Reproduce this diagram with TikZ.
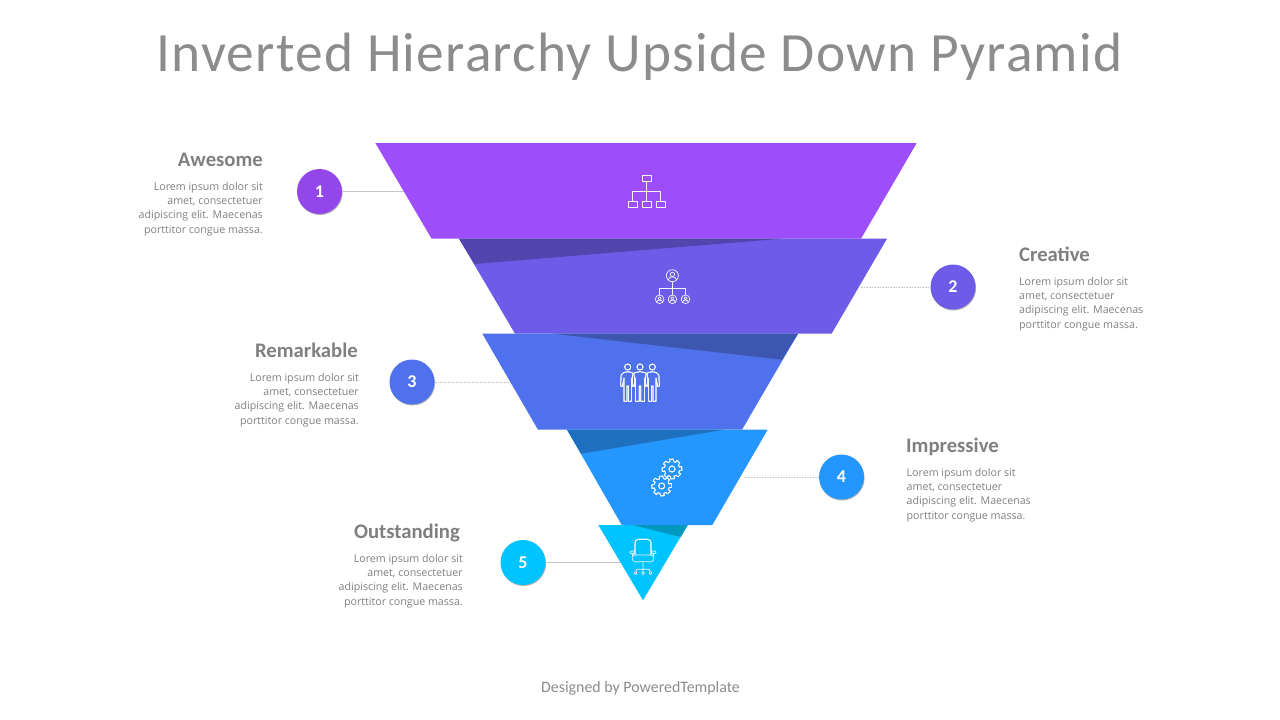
\documentclass[tikz,border=0pt]{standalone}
\usepackage{fontspec}
\setmainfont{Carlito}
\newfontfamily\blurbfont{Open Sans}
\usepackage{xcolor}
\usetikzlibrary{calc,shadows}
\definecolor{bandA}{HTML}{9D4EFA}
\definecolor{bandB}{HTML}{6E5CE8}
\definecolor{bandC}{HTML}{4F72EC}
\definecolor{bandD}{HTML}{2496FF}
\definecolor{bandE}{HTML}{00C4FF}
\definecolor{numA}{HTML}{9347EA}
\definecolor{wedgeB}{HTML}{5445AE}
\definecolor{wedgeC}{HTML}{3D56B0}
\definecolor{wedgeD}{HTML}{1E70BE}
\definecolor{wedgeE}{HTML}{0098BF}
\definecolor{inkgray}{HTML}{7F7F7F}
\tikzset{
  numdot/.style={circle,minimum size=45pt,inner sep=0pt,text=white,font=\fontsize{18}{18}\selectfont\bfseries,
    drop shadow={shadow xshift=.6pt,shadow yshift=-1pt,opacity=.3,fill=black}},
  leader/.style={gray!45,line width=1pt},
  leaderdot/.style={leader,dash pattern=on .8pt off .8pt},
  headline/.style={inner sep=0pt,text=inkgray,font=\fontsize{20.7}{21}\selectfont\bfseries},
  blurb/.style={inner sep=0pt,text=inkgray,font=\blurbfont\fontsize{10.65}{14.3}\selectfont},
  icon/.style={white!92!gray,line width=.7pt,line join=round},
}
% little person, head centre at (#1,#2), half width of the body #3
\newcommand{\personicon}[3]{
  \begin{scope}[shift={(#1,#2)}]
  \draw[icon] (0,0) circle (3);
  \draw[icon] (-#3,34.3)--(-#3,11)--(-#3-1.6,19.5)--(-#3-3.4,19)--(-#3-2.8,8)
    .. controls (-#3-2.2,5.5) and (-3,5) .. (0,4.7)
    .. controls (3,5) and (#3+2.2,5.5) .. (#3+2.8,8)
    --(#3+3.4,19)--(#3+1.6,19.5)--(#3,11)--(#3,34.3)--(.7,34.3)--(.7,19)--(-.7,19)--(-.7,34.3)--cycle;
  \end{scope}
}
\newcommand{\gearicon}[2]{
  \begin{scope}[shift={(#1,#2)}]
  \draw[icon] (-15:10) \foreach \a in {0,45,...,315}{ --(\a-15:10)--(\a+6:10)--(\a+13:7.6)--(\a+30:7.6) } --cycle;
  \draw[icon] (0,0) circle (3);
  \end{scope}
}
% head and shoulders in a ring
\newcommand{\headicon}[3]{
  \begin{scope}[shift={(#1,#2)},scale=#3]
  \draw[icon] (0,0) circle (6);
  \draw[icon] (0,-1.3) circle (2.2);
  \draw[icon] (-4.2,4.2) .. controls (-3.6,1.8) and (-2,1.2) .. (0,1.2) .. controls (2,1.2) and (3.6,1.8) .. (4.2,4.2);
  \end{scope}
}
\begin{document}
\begin{tikzpicture}[x=1pt,y=-1pt]
\useasboundingbox (0,0) rectangle (1280,720);
\node[inner sep=0pt,anchor=base,text=inkgray!90!white,font=\fontsize{55.4}{60}\selectfont\addfontfeature{LetterSpace=2.25}] (title) at (639.5,71) {Inverted Hierarchy Upside Down Pyramid};
\node[inner sep=0pt,anchor=base,text=inkgray!90!white,font=\fontsize{15.9}{16}\selectfont] (footer) at (640.5,692) {Designed by PoweredTemplate};
% leaders go under the bands
\node[numdot,fill=numA] (numone) at (319.5,191.5) {1};
\node[numdot,fill=bandB] (numtwo) at (953,287) {2};
\node[numdot,fill=bandC] (numthree) at (412,382) {3};
\node[numdot,fill=bandD] (numfour) at (841.5,477) {4};
\node[numdot,fill=bandE] (numfive) at (523,562.5) {5};
\coordinate (endone) at (410,191.5);
\coordinate (endtwo) at (860,287);
\coordinate (endthree) at (515,382);
\coordinate (endfour) at (745,477);
\coordinate (endfive) at (625,562.5);
\draw[leader] (numone)--(endone);
\draw[leaderdot] (numtwo)--(endtwo);
\draw[leaderdot] (numthree)--(endthree);
\draw[leaderdot] (numfour)--(endfour);
\draw[leader] (numfive)--(endfive);
% bands
\fill[bandA] (375.3,143)--(916.7,143)--(861,238.7)--(431.6,238.7)--cycle;
\fill[bandB] (459,238.7)--(887,238.7)--(831.6,333.7)--(515,333.7)--cycle;
\fill[wedgeB] (459,238.7)--(782,238.7)--(474.5,264)--cycle;
\fill[bandC] (482.3,333.7)--(798,333.7)--(742,429.7)--(538,429.7)--cycle;
\fill[wedgeC] (553,333.7)--(798,333.7)--(782,359.7)--cycle;
\fill[bandD] (567,429.7)--(767.7,429.7)--(712.3,525)--(621.7,525)--cycle;
\fill[wedgeD] (567,429.7)--(724,429.7)--(581,453.7)--cycle;
\fill[bandE] (598.3,525)--(687.7,525)--(643,600.3)--cycle;
\fill[wedgeE] (632.3,525)--(687.7,525)--(680.7,537)--cycle;
% org chart icon
\draw[icon] (642,175.7) rectangle (651,181.7);
\draw[icon] (646.5,181.7)--(646.5,201.3) (632.4,201.3)--(632.4,191.3)--(660.7,191.3)--(660.7,201.3);
\foreach \bx in {628,642,656.4}
  \draw[icon] (\bx,201.3) rectangle (\bx+9,207.3);
% people chart icon
\headicon{672.4}{275.7}{1}
\draw[icon] (672.4,281.7)--(672.4,295) (659.6,295)--(659.6,288.3)--(685.5,288.3)--(685.5,295);
\foreach \hx in {659.6,672.4,685.5}
  \headicon{\hx}{299.3}{.72}
% team icon
\personicon{627.7}{367}{3.7}
\personicon{652.3}{367}{3.7}
\personicon{640}{367}{4.6}
% gears
\gearicon{672}{469}
\gearicon{661.7}{486}
% chair
\draw[icon,rounded corners=3.5pt] (635,555)--(635,539.3)--(651,539.3)--(651,555);
\draw[icon,rounded corners=1.5pt] (632.7,555)rectangle(653.3,561.7);
\draw[icon,rounded corners=1pt] (630,551)rectangle(634.3,553.4) (651.7,551)rectangle(656,553.4);
\draw[icon] (632.5,553.4)--(632.5,556) (653.5,553.4)--(653.5,556);
\draw[icon] (643,561.7)--(643,571.5) (636,571.5)--(636.8,569.3)--(649.2,569.3)--(650,571.5);
\foreach \cx in {635.7,643,650.3}
  \draw[icon] (\cx,573) circle (1.5);
% texts
\node[headline,anchor=base east] (headone) at (263,166) {Awesome};
\node[blurb,anchor=north east,align=right] (textone) at (263,182) {Lorem ipsum dolor sit\\amet, consectetuer\\adipiscing elit. Maecenas\\porttitor congue massa.};
\node[headline,anchor=base west] (headtwo) at (1019,261) {Creative};
\node[blurb,anchor=north west,align=left] (texttwo) at (1019,277) {Lorem ipsum dolor sit\\amet, consectetuer\\adipiscing elit. Maecenas\\porttitor congue massa.};
\node[headline,anchor=base east] (headthree) at (358,357) {Remarkable};
\node[blurb,anchor=north east,align=right] (textthree) at (359,373) {Lorem ipsum dolor sit\\amet, consectetuer\\adipiscing elit. Maecenas\\porttitor congue massa.};
\node[headline,anchor=base west] (headfour) at (906,452) {Impressive};
\node[blurb,anchor=north west,align=left] (textfour) at (906.5,468) {Lorem ipsum dolor sit\\amet, consectetuer\\adipiscing elit. Maecenas\\porttitor congue massa.};
\node[headline,anchor=base east] (headfive) at (460,538) {Outstanding};
\node[blurb,anchor=north east,align=right] (textfive) at (463,554) {Lorem ipsum dolor sit\\amet, consectetuer\\adipiscing elit. Maecenas\\porttitor congue massa.};
\end{tikzpicture}
\end{document}
